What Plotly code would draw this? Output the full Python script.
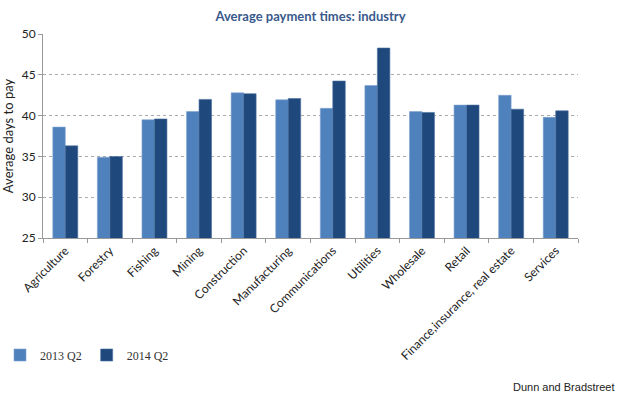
import plotly.graph_objects as go

categories = ["Agriculture", "Forestry", "Fishing", "Mining", "Construction", "Manufacturing",
              "Communications", "Utilities", "Wholesale", "Retail",
              "Finance,insurance, real estate", "Services"]
q2_2013 = [38.6, 34.9, 39.5, 40.5, 42.8, 41.95, 40.9, 43.7, 40.5, 41.3, 42.5, 39.8]
q2_2014 = [36.3, 35.0, 39.6, 42.0, 42.7, 42.1, 44.25, 48.3, 40.4, 41.3, 40.8, 40.6]
y_ticks = [25, 30, 35, 40, 45, 50]

fig = go.Figure()
fig.add_trace(go.Bar(name="2013 Q2", x=categories, y=q2_2013, marker_color="#4F81BD",
                     marker_line=dict(color="#7FA3D0", width=0.6)))
fig.add_trace(go.Bar(name="2014 Q2", x=categories, y=q2_2014, marker_color="#1F497D",
                     marker_line=dict(color="#4A6E9E", width=0.6)))

fig.update_layout(
    width=619, height=399,
    margin=dict(l=43, r=41, t=34, b=161, autoexpand=False),
    paper_bgcolor="white", plot_bgcolor="white",
    barmode="group", bargap=0.44, bargroupgap=0,
    title=dict(text="<b>Average payment times: industry</b>", x=0.5, xanchor="center",
               xref="paper", y=1 - 16 / 399, yanchor="middle",
               font=dict(family="Lato, Open Sans, sans-serif", size=13, color="#3A5A8C")),
    showlegend=True,
    legend=dict(orientation="h", xref="container", yref="container", x=0.0, y=1 - 355 / 399,
                xanchor="left", yanchor="middle",
                font=dict(family="Liberation Serif, serif", size=12, color="#333"),
                itemwidth=30, tracegroupgap=0),
    font=dict(family="Lato, sans-serif", size=12, color="#222"),
)
fig.update_yaxes(range=[25, 50.02], tickvals=y_ticks, showgrid=True, gridcolor="#AAAAAA",
                 griddash="dot", gridwidth=0.8, showline=True, linecolor="#999",
                 ticks="outside", ticklen=4, tickcolor="#999", automargin=False,
                 tickfont=dict(family="Lato, sans-serif", size=12, color="#222"),
                 title=dict(text="Average days to pay", standoff=6,
                            font=dict(family="Lato, sans-serif", size=13, color="#222")),
                 zeroline=False)
fig.update_xaxes(showline=True, linecolor="#999", tickangle=-45, ticks="outside",
                 tickson="boundaries", ticklen=4, tickcolor="#999", automargin=False,
                 tickfont=dict(family="Lato, sans-serif", size=12, color="#222"))
fig.add_annotation(text="Dunn and Bradstreet", xref="paper", yref="paper",
                   x=(617 - 43) / 535, y=-(387 - 238) / 204, xanchor="right", yanchor="middle",
                   showarrow=False, font=dict(family="Liberation Sans, Arial, sans-serif", size=11, color="#222"))

fig.write_html("out.html", config={"displayModeBar": False},
               post_script="document.body.style.margin='0';document.body.style.padding='0';")
